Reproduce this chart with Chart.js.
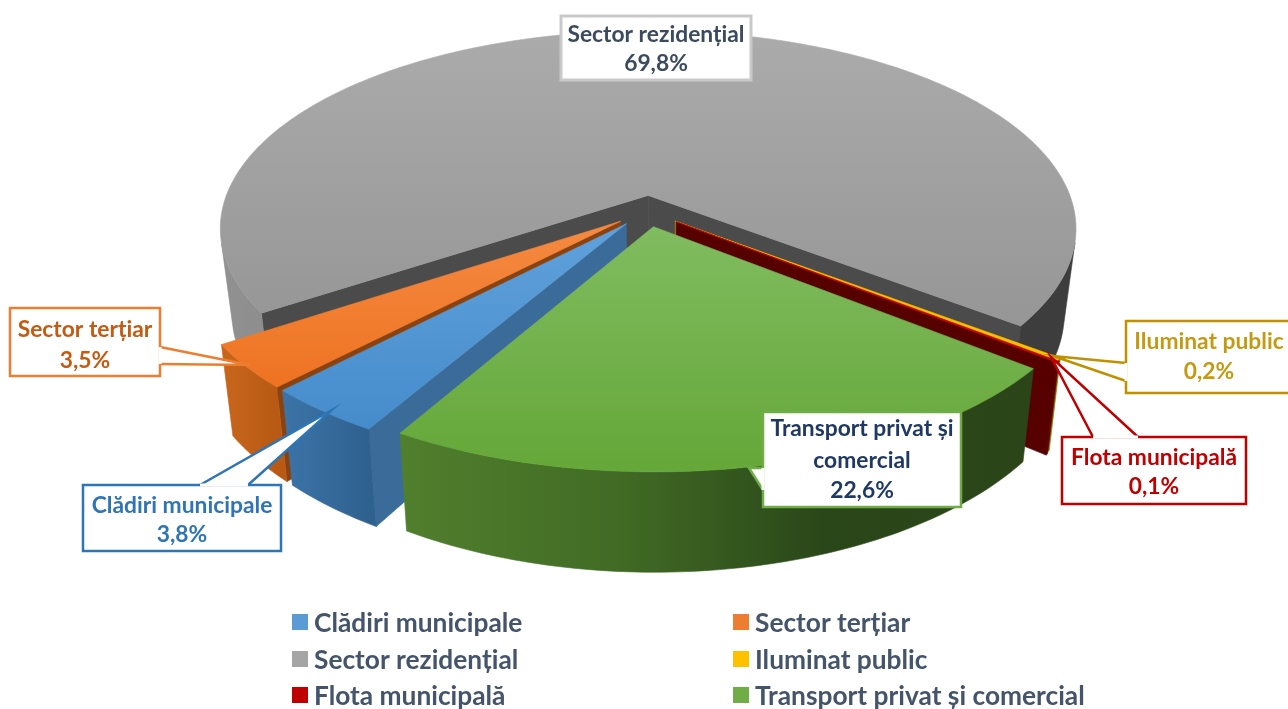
<!DOCTYPE html>
<html><head><meta charset="utf-8">
<style>html,body{margin:0;padding:0;background:#fff;overflow:hidden}canvas{display:block}</style>
<script src="https://cdn.jsdelivr.net/npm/chart.js@4"></script>
</head><body><canvas id="c" width="1288" height="709"></canvas>
<script>
const categories = ['Clădiri municipale','Sector terțiar','Sector rezidențial','Iluminat public','Flota municipală','Transport privat și comercial'];
const shares = [3.8,3.5,69.8,0.2,0.1,22.6];
const colors = ['#5B9BD5','#ED7D31','#A5A5A5','#FFC000','#C00000','#70AD47'];
const sliceOffsets = [24,24,24,25,26,24];
const drawOrder = [2,3,4,1,0,5];
const FONT = 'Lato, Carlito, "Open Sans", sans-serif';

// shading of every slice: top gradient, outer wall gradient (left to right), radial cut face
const shades = [
  {top:['#5FA1DC','#468CCB'], rim:['#3C74A8','#2F618F'], cut:'#3A6B99'},
  {top:['#F58A42','#EE7322'], rim:['#C9661C','#B85A14'], cut:'#8A4310'},
  {top:['#ABABAB','#969696'], rim:['#919191','#7C7C7C','#3F3F3F','#3D3D3D'], cut:'#4B4B4B'},
  {top:['#FFC000','#FFC000'], rim:['#8A6C00','#7A6000'], cut:'#C09000'},
  {top:['#D00000','#C00000'], rim:['#5A0000','#560000'], cut:'#560000'},
  {top:['#80BC60','#65A738'], rim:['#507F2D','#426C25','#2A4719','#2B4519'], cut:'#35591F'}
];

// callouts: box, tail polygon (root, tip, root), text line centres
const callouts = [
  {i:2, box:[561,16,190,64], border:'#C9C9C9', text:'#3C4A5E', lines:['Sector rezidențial'], ys:[34.5,64], lw:3, dx:0},
  {i:1, box:[10,308,150,68], border:'#ED7D31', text:'#C55A11', lines:['Sector terțiar'], ys:[330,361], tail:[[160,347],[250,365],[160,364]], lw:2.5, dx:0},
  {i:0, box:[83,485,198,66], border:'#2E75B6', text:'#2E75B6', lines:['Clădiri municipale'], ys:[506,535], tail:[[200,485],[332,410],[248,485]], lw:2.5, dx:0},
  {i:3, box:[1126,321,170,72], border:'#BF9000', text:'#C49A12', lines:['Iluminat public'], ys:[342,372], tail:[[1126,363],[1053,356],[1126,381]], lw:2.5, dx:-2},
  {i:4, box:[1062,437,184,67], border:'#C00000', text:'#C00000', lines:['Flota municipală'], ys:[458,487], tail:[[1093,437],[1051,357],[1138,437]], lw:2.5, dx:0},
  {i:5, box:[763,412,198,95], border:'#70AD47', text:'#1F3864', lines:['Transport privat și','comercial'], ys:[429,461,491], tail:[[763,468],[749,468],[763,490]], lw:2.5, dx:0}
];

const view = {R:427.5, Ry:197.5, persp:0.17, cy:211, depth:82, shrink:0.027};
function project(cx,u,v,z){
  const f = 1/(1-view.persp*v);
  return [cx+view.R*u*f*(1-view.shrink*z), view.cy+view.Ry*v*f+z*view.depth*f];
}
function area(p){let s=0;for(let i=0;i<p.length;i++){const a=p[i],b=p[(i+1)%p.length];s+=a[0]*b[1]-b[0]*a[1];}return s;}
function poly(ctx,p){ctx.beginPath();p.forEach((q,i)=>i?ctx.lineTo(q[0],q[1]):ctx.moveTo(q[0],q[1]));ctx.closePath();}
function fillPoly(ctx,p,style){poly(ctx,p);ctx.fillStyle=style;ctx.strokeStyle=style;ctx.lineWidth=0.6;ctx.fill();ctx.stroke();}

function drawSlice(ctx,el,sh){
  const a0=el.startAngle,a1=el.endAngle,cx=el.x;
  const e=el.options.offset/el.outerRadius, mid=(a0+a1)/2;
  const ox=e*Math.cos(mid), oy=e*Math.sin(mid);
  const P=(a,z)=>project(cx,ox+Math.cos(a),oy+Math.sin(a),z);
  const A=z=>project(cx,ox,oy,z);
  const startFace=[A(0),P(a0,0),P(a0,1),A(1)], endFace=[A(0),P(a1,0),P(a1,1),A(1)];
  if(area(startFace)<0) fillPoly(ctx,startFace,sh.cut);
  if(area(endFace)>0) fillPoly(ctx,endFace,sh.cut);
  const n=Math.max(2,Math.ceil((a1-a0)/(Math.PI/180)));
  const angle=i=>a0+(a1-a0)*i/n;
  // the outer wall: contiguous runs of viewer-facing segments, one polygon each
  const runs=[];let run=null;
  for(let i=0;i<n;i++){
    const q=[P(angle(i),0),P(angle(i+1),0),P(angle(i+1),1),P(angle(i),1)];
    if(area(q)<0){ if(!run){run=[i];runs.push(run);} run.push(i+1); } else run=null;
  }
  const xs=[];
  for(let i=0;i<=n;i++){xs.push(P(angle(i),0)[0]);}
  const xa=Math.min(...xs), xb=Math.max(...xs,xa+1);
  const g=ctx.createLinearGradient(xa,0,xb,0);
  sh.rim.forEach((c,i)=>g.addColorStop(i/(sh.rim.length-1),c));
  runs.forEach(r=>{
    const pts=r.map(i=>P(angle(i),0)).concat(r.slice().reverse().map(i=>P(angle(i),1)));
    fillPoly(ctx,pts,g);
  });
  const top=[A(0)];
  for(let i=0;i<=n;i++) top.push(P(angle(i),0));
  const ys=top.map(p=>p[1]);
  const tg=ctx.createLinearGradient(0,Math.min(...ys),0,Math.max(Math.max(...ys),Math.min(...ys)+1));
  tg.addColorStop(0,sh.top[0]);tg.addColorStop(1,sh.top[1]);
  fillPoly(ctx,top,tg);
}

const pct=v=>v.toFixed(1).replace('.',',')+'%';

const pie3d={
  id:'pie3d',
  beforeDraw(chart){
    const legend=chart.legend;
    legend.draw=function(){
      const ctx=chart.ctx, cols=[292,733], rows=[622,659,695];
      ctx.save();
      ctx.font='bold 26.3px '+FONT;
      ctx.textBaseline='middle';ctx.textAlign='left';
      legend.legendItems.forEach((it,k)=>{
        const x=cols[k%2], y=rows[Math.floor(k/2)];
        ctx.fillStyle=it.fillStyle;
        ctx.fillRect(x,y-8,16,16);
        ctx.fillStyle='#44546A';
        ctx.fillText(it.text,x+22,y+1.5);
      });
      ctx.restore();
    };
  },
  beforeDatasetsDraw(chart){
    const ctx=chart.ctx, arcs=chart.getDatasetMeta(0).data;
    ctx.save();
    ctx.lineJoin='round';
    drawOrder.forEach(i=>drawSlice(ctx,arcs[i],shades[i]));
    ctx.restore();
    return false;
  },
  afterDraw(chart){
    const ctx=chart.ctx;
    ctx.save();
    ctx.lineJoin='miter';
    callouts.forEach(c=>{
      const [x,y,w,h]=c.box;
      ctx.beginPath();ctx.rect(x,y,w,h);
      ctx.fillStyle='#fff';ctx.fill();
      ctx.lineWidth=c.lw;ctx.strokeStyle=c.border;ctx.stroke();
      if(c.tail){
        poly(ctx,c.tail);ctx.fill();
        ctx.beginPath();ctx.moveTo(...c.tail[0]);ctx.lineTo(...c.tail[1]);ctx.lineTo(...c.tail[2]);ctx.stroke();
        ctx.beginPath();ctx.moveTo(...c.tail[0]);ctx.lineTo(...c.tail[2]);
        ctx.strokeStyle='#fff';ctx.lineWidth=c.lw+0.5;ctx.stroke();
      }
      ctx.font='bold 22.8px '+FONT;ctx.fillStyle=c.text;ctx.textAlign='center';ctx.textBaseline='middle';
      const all=c.lines.concat([pct(shares[c.i])]);
      all.forEach((t,k)=>ctx.fillText(t,x+w/2+c.dx,c.ys[k]));
    });
    ctx.restore();
  }
};

new Chart(document.getElementById('c'),{
  type:'pie',
  data:{labels:categories,datasets:[{data:shares,backgroundColor:colors,offset:sliceOffsets,borderWidth:0}]},
  options:{
    responsive:false,animation:false,rotation:210,
    layout:{padding:{left:6}},
    plugins:{legend:{display:true,position:'bottom',labels:{font:{size:24,weight:'bold',family:FONT},color:'#44546A',boxWidth:16,padding:12}},tooltip:{enabled:false}}
  },
  plugins:[pie3d]
});
</script></body></html>
